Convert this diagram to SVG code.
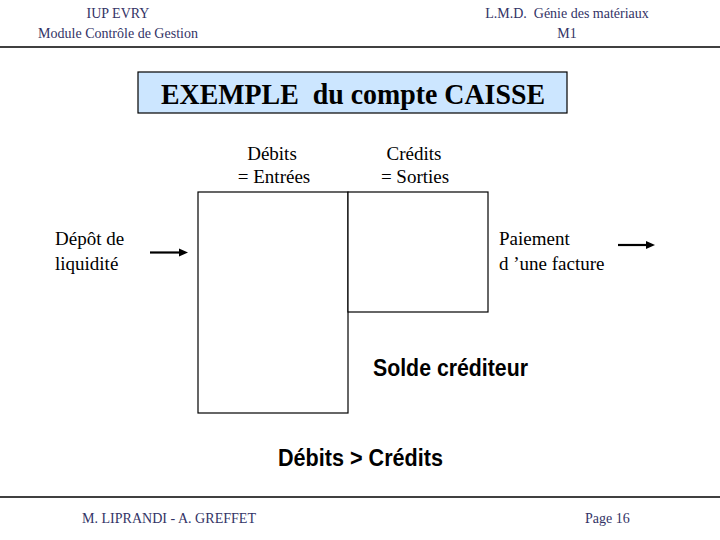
<svg xmlns="http://www.w3.org/2000/svg" width="720" height="540" viewBox="0 0 720 540">
<style>
.hdr{font-family:'Liberation Serif','Times New Roman',Times,'DejaVu Serif',serif;font-size:14px;fill:#333366}
.t{font-family:'Liberation Serif','Times New Roman',Times,'DejaVu Serif',serif;font-size:19px;fill:#000}
.b{font-family:'Liberation Sans',Arial,sans-serif;font-size:23px;font-weight:bold;fill:#000}
.box{fill:#fff;stroke:#000;stroke-width:1.2}
.rule{stroke:#000;stroke-width:1.5}
.arr{stroke:#000;stroke-width:2.2;fill:none}
.head{fill:#000}
</style>
<rect width="720" height="540" fill="#fff"/>
<g id="header">
<text class="hdr" x="118" y="18" text-anchor="middle">IUP EVRY</text>
<text class="hdr" x="118" y="38" text-anchor="middle">Module Contrôle de Gestion</text>
<text class="hdr" x="567" y="18" text-anchor="middle" xml:space="preserve">L.M.D.  Génie des matériaux</text>
<text class="hdr" x="567" y="38" text-anchor="middle">M1</text>
<line class="rule" x1="0" y1="47" x2="720" y2="47"/>
</g>
<g id="title">
<rect x="138" y="72" width="429" height="41" fill="#cce6ff" stroke="#000" stroke-width="1.2"/>
<text x="353" y="104" text-anchor="middle" style="font-family:'Liberation Serif','Times New Roman',Times,'DejaVu Serif',serif;font-size:29px;font-weight:bold" xml:space="preserve" textLength="384" lengthAdjust="spacingAndGlyphs">EXEMPLE  du compte CAISSE</text>
</g>
<g id="debits-label">
<text class="t" x="272" y="160" text-anchor="middle">Débits</text>
<text class="t" x="274" y="183" text-anchor="middle">= Entrées</text>
</g>
<g id="credits-label">
<text class="t" x="414" y="160" text-anchor="middle">Crédits</text>
<text class="t" x="415" y="183" text-anchor="middle">= Sorties</text>
</g>
<g id="debit-box">
<rect class="box" x="198" y="192" width="150" height="221"/>
</g>
<g id="credit-box">
<rect class="box" x="348" y="192" width="140" height="120"/>
</g>
<g id="depot">
<text class="t" x="55" y="245">Dépôt de</text>
<text class="t" x="55" y="270">liquidité</text>
</g>
<g id="paiement">
<text class="t" x="499" y="245">Paiement</text>
<text class="t" x="499" y="270">d ’une facture</text>
</g>
<g id="connectors">
<line class="arr" x1="150" y1="252.5" x2="181" y2="252.5"/>
<path class="head" d="M179,248.5 L188,252.5 L179,256.5 z"/>
<line class="arr" x1="618" y1="245" x2="648" y2="245"/>
<path class="head" d="M646,241 L655,245 L646,249 z"/>
</g>
<g id="solde">
<text class="b" x="373" y="376" textLength="155" lengthAdjust="spacingAndGlyphs">Solde créditeur</text>
</g>
<g id="comparaison">
<text class="b" x="278" y="466" textLength="165" lengthAdjust="spacingAndGlyphs">Débits &gt; Crédits</text>
</g>
<g id="footer">
<line class="rule" x1="0" y1="497" x2="720" y2="497"/>
<text class="hdr" x="82" y="523" textLength="174" lengthAdjust="spacingAndGlyphs">M. LIPRANDI - A. GREFFET</text>
<text class="hdr" x="585" y="523">Page 16</text>
</g>
</svg>
